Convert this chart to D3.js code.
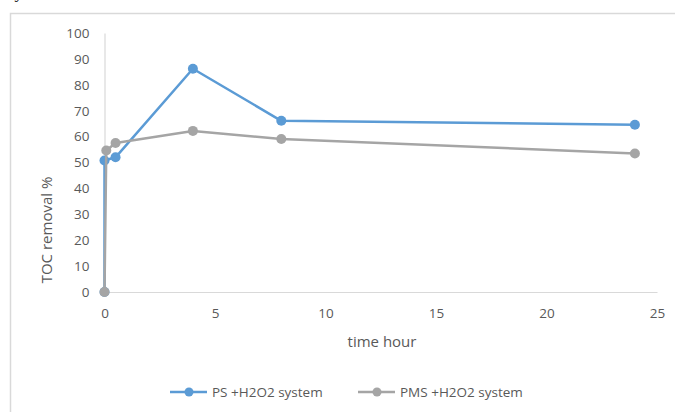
<!DOCTYPE html>
<html>
<head>
<meta charset="utf-8">
<script src="https://cdn.jsdelivr.net/npm/d3@7"></script>
<style>
  body { margin: 0; background: #fff; }
  svg { display: block; }
</style>
</head>
<body>
<div id="chart"></div>
<script>
// time points (hours) and TOC removal values
var psTime = [0, 0, 0.5, 4, 8, 24];
var psValues = [0, 50.8, 52, 86.2, 66.1, 64.6];
var psErr = [0, 0, 0, 0, 0, 0];

var pmsTime = [0, 0.08, 0.5, 4, 8, 24];
var pmsValues = [0, 54.6, 57.5, 62.2, 59.1, 53.5];
var pmsErr = [0, 0, 0, 0, 1.5, 0];

var seriesNames = ['PS +H2O2 system', 'PMS +H2O2 system'];
var seriesColors = ['#5b9bd5', '#a5a5a5'];

var xTicks = [0, 5, 10, 15, 20, 25];
var yTicks = [0, 10, 20, 30, 40, 50, 60, 70, 80, 90, 100];

var width = 675, height = 412;
var font = '"Open Sans", Lato, sans-serif';

var svg = d3.select('#chart').append('svg')
    .attr('width', width)
    .attr('height', height);

// caption line of the page above the chart, mostly cut off like in the source
svg.append('text')
    .attr('x', 6).attr('y', -2)
    .attr('font-family', '"Liberation Serif", serif')
    .attr('font-size', 17)
    .attr('fill', '#000')
    .text('by removal of TOC removal.');

// chart frame (runs off the right and bottom edges)
svg.append('rect')
    .attr('x', 10.5).attr('y', 13.5)
    .attr('width', 700).attr('height', 450)
    .attr('fill', 'none')
    .attr('stroke', '#d9d9d9')
    .attr('stroke-width', 1.5);

var x = d3.scaleLinear().domain([0, 25]).range([104.5, 657]);
var y = d3.scaleLinear().domain([0, 100]).range([292, 33]);

// axes
var xAxis = svg.append('g')
    .attr('transform', 'translate(0,' + y(0) + ')')
    .call(d3.axisBottom(x).tickValues(xTicks).tickSize(0).tickPadding(16));
var yAxis = svg.append('g')
    .attr('transform', 'translate(' + x(0) + ',0)')
    .call(d3.axisLeft(y).tickValues(yTicks).tickSize(0).tickPadding(15));

[xAxis, yAxis].forEach(function(a) {
    a.select('.domain').attr('stroke', '#d9d9d9').attr('stroke-width', 1.2);
    a.selectAll('text')
        .attr('font-family', font)
        .attr('font-size', 13.5)
        .attr('fill', '#595959');
});

svg.append('text')
    .attr('x', 382).attr('y', 347)
    .attr('text-anchor', 'middle')
    .attr('font-family', font).attr('font-size', 15)
    .attr('fill', '#595959')
    .text('time  hour');

svg.append('text')
    .attr('transform', 'translate(52,230) rotate(-90)')
    .attr('text-anchor', 'middle')
    .attr('font-family', font).attr('font-size', 15)
    .attr('fill', '#595959')
    .text('TOC removal %');

var line = d3.line()
    .x(function(d) { return x(d.t); })
    .y(function(d) { return y(d.v); });

function zip(ts, vs, es) {
    return ts.map(function(t, i) { return { t: t, v: vs[i], e: es[i] }; });
}

var series = [zip(psTime, psValues, psErr), zip(pmsTime, pmsValues, pmsErr)];

series.forEach(function(data, i) {
    var g = svg.append('g');
    g.append('path')
        .datum(data)
        .attr('d', line)
        .attr('fill', 'none')
        .attr('stroke', seriesColors[i])
        .attr('stroke-width', 2.5)
        .attr('stroke-linejoin', 'round');

    g.selectAll('line.err')
        .data(data.filter(function(d) { return d.e > 0; }))
        .enter().append('line')
        .attr('x1', function(d) { return x(d.t); })
        .attr('x2', function(d) { return x(d.t); })
        .attr('y1', function(d) { return y(d.v - d.e); })
        .attr('y2', function(d) { return y(d.v + d.e); })
        .attr('stroke', '#7f7f7f')
        .attr('stroke-width', 1);

    g.selectAll('circle')
        .data(data)
        .enter().append('circle')
        .attr('cx', function(d) { return x(d.t); })
        .attr('cy', function(d) { return y(d.v); })
        .attr('r', 5)
        .attr('fill', seriesColors[i]);
});

// legend
var legendX = [170, 358];
seriesNames.forEach(function(name, i) {
    var lg = svg.append('g').attr('transform', 'translate(' + legendX[i] + ',392)');
    lg.append('line')
        .attr('x1', 0).attr('x2', 37)
        .attr('stroke', seriesColors[i]).attr('stroke-width', 2.5);
    lg.append('circle')
        .attr('cx', 19).attr('r', 4.5)
        .attr('fill', seriesColors[i]);
    lg.append('text')
        .attr('x', 42).attr('dy', '0.35em')
        .attr('font-family', font).attr('font-size', 13.5)
        .attr('fill', '#595959')
        .text(name);
});
</script>
</body>
</html>
